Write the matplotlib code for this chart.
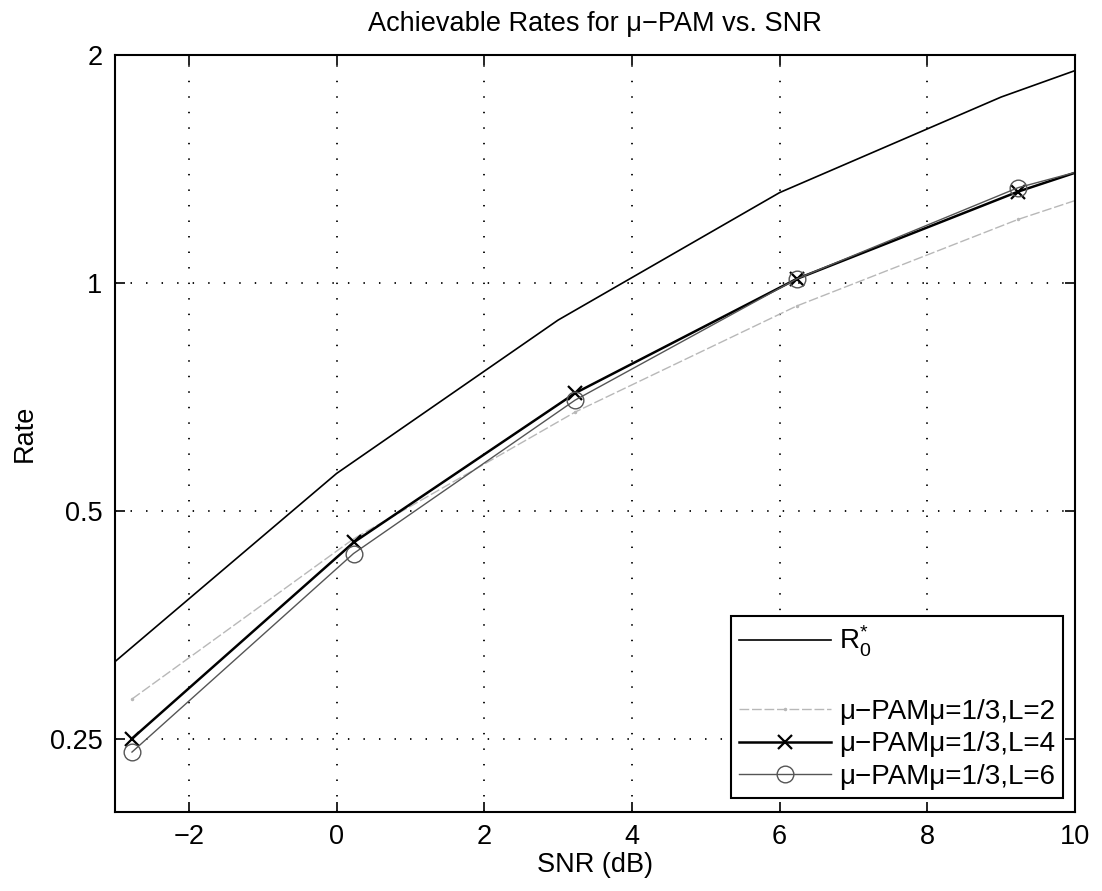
import matplotlib
matplotlib.use("Agg")
import matplotlib.pyplot as plt
from matplotlib.ticker import NullLocator

plt.rcParams['font.family'] = ['Liberation Sans', 'DejaVu Sans']
plt.rcParams['mathtext.fontset'] = 'custom'
plt.rcParams['mathtext.rm'] = 'Liberation Sans'
plt.rcParams['mathtext.it'] = 'Liberation Sans:italic'

# R0* curve (3 dB grid)
snr_r0 = [-3, 0, 3, 6, 9, 12]
rate_r0 = [0.316, 0.56, 0.893, 1.316, 1.76, 2.24]

# mu-PAM curves, mu = 1/3
snr_pam = [-2.77, 0.23, 3.23, 6.23, 9.23, 12.23]
rate_l2 = [0.282, 0.459, 0.675, 0.932, 1.213, 1.516]
rate_l4 = [0.250, 0.454, 0.715, 1.012, 1.320, 1.650]
rate_l6 = [0.240, 0.439, 0.700, 1.012, 1.336, 1.600]

xticks = [-2, 0, 2, 4, 6, 8, 10]
xticklabels = ['\u22122', '0', '2', '4', '6', '8', '10']
yticks = [0.25, 0.5, 1, 2]
yticklabels = ['0.25', '0.5', '1', '2']

fs = 19.5
fig = plt.figure(figsize=(11.02, 8.91), dpi=100)
ax = fig.add_axes([115/1102, 1 - 812/891, 960/1102, 757/891])

ax.plot(snr_r0, rate_r0, color='black', lw=1.2, label=r'$\mathrm{R}_0^{*}$')
ax.plot([], [], color='none', label=' ')  # blank row in the legend
ax.plot(snr_pam, rate_l2, color='#b8b8b8', lw=1.0, ls=(0, (7, 2)), marker='.', ms=3,
        label='\u03bc\u2212PAM\u03bc=1/3,L=2')
ax.plot(snr_pam, rate_l4, color='black', lw=1.8, marker='x', ms=10, mew=1.6,
        label='\u03bc\u2212PAM\u03bc=1/3,L=4')
ax.plot(snr_pam, rate_l6, color='#555555', lw=1.0, marker='o', ms=12, mfc='none',
        mec='#555555', mew=1.0, label='\u03bc\u2212PAM\u03bc=1/3,L=6')

ax.set_yscale('log', base=2)
ax.set_xlim(-3, 10)
ax.set_ylim(0.2, 2)
ax.set_xticks(xticks)
ax.set_xticklabels(xticklabels)
ax.set_yticks(yticks)
ax.set_yticklabels(yticklabels)
ax.yaxis.set_minor_locator(NullLocator())
ax.tick_params(direction='in', length=7, width=1.2, top=True, right=True,
               labelsize=fs, pad=9)
ax.grid(True, color='black', ls=(0, (0.8, 7.8)), lw=1.3)
for s in ax.spines.values():
    s.set_linewidth(1.5)

ax.set_xlabel('SNR (dB)', fontsize=fs, labelpad=1)
ax.set_ylabel('Rate', fontsize=fs, labelpad=9)
ax.set_title('Achievable Rates for \u03bc\u2212PAM vs. SNR', fontsize=fs, pad=17)

leg = ax.legend(loc='lower right', bbox_to_anchor=(0.988, 0.018), borderaxespad=0,
                fontsize=20, fancybox=False, edgecolor='black', framealpha=1,
                handlelength=3.3, handletextpad=0.29, labelspacing=0.24,
                borderpad=0.3)
leg.get_frame().set_linewidth(1.5)

fig.savefig('out.png', dpi=100)
